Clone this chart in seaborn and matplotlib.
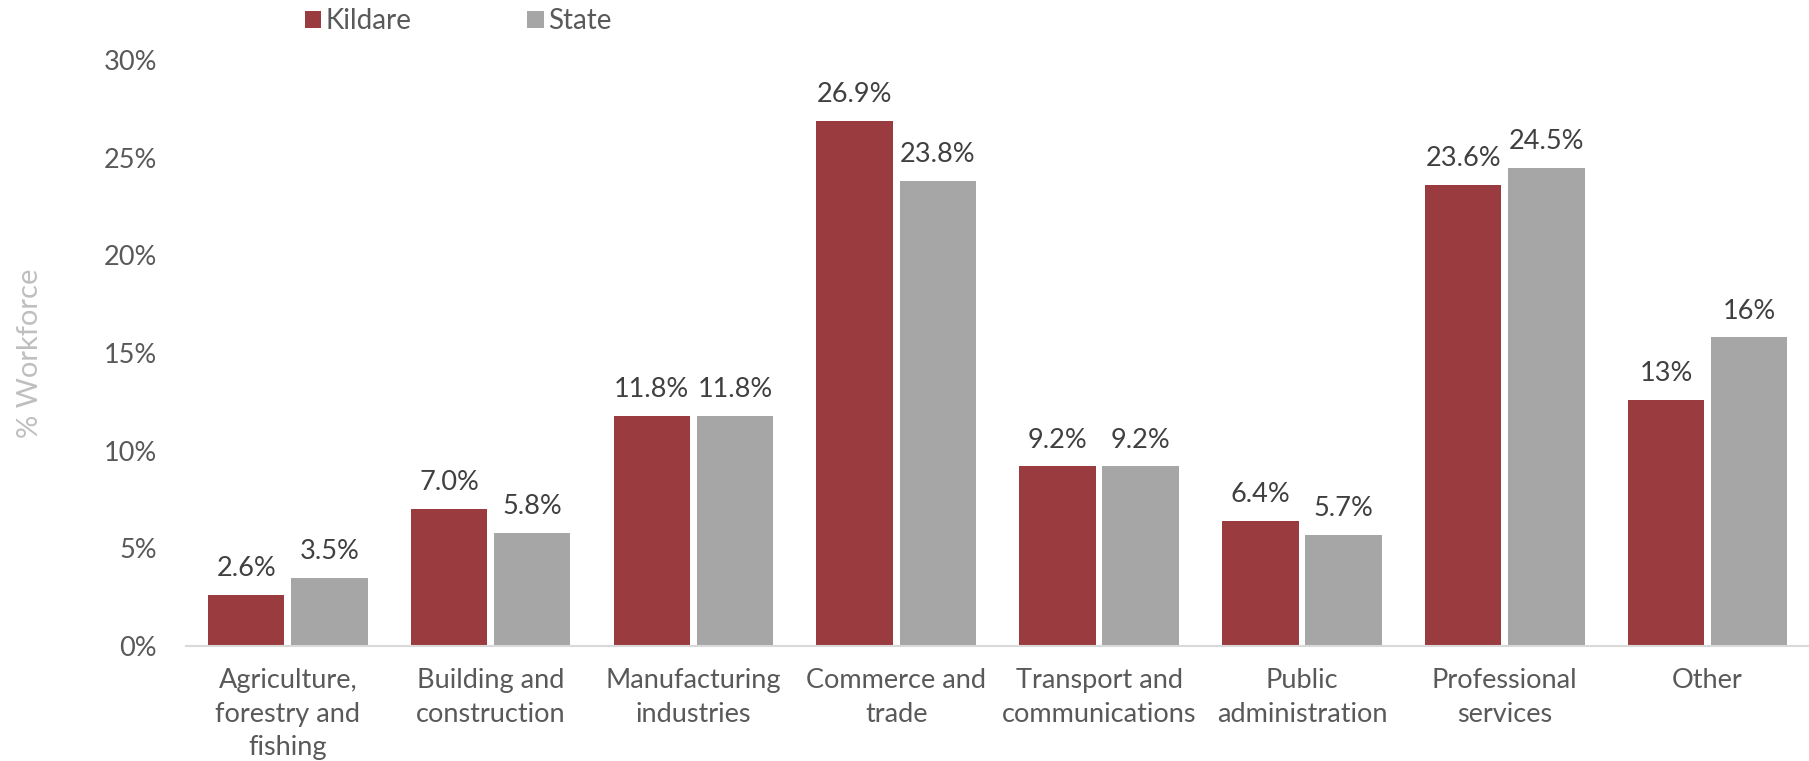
import matplotlib
matplotlib.use("Agg")
import matplotlib.pyplot as plt
from matplotlib.patches import Patch
import seaborn as sns
import pandas as pd

categories = [
    "Agriculture,\nforestry and\nfishing",
    "Building and\nconstruction",
    "Manufacturing\nindustries",
    "Commerce and\ntrade",
    "Transport and\ncommunications",
    "Public\nadministration",
    "Professional\nservices",
    "Other",
]
kildare = [2.6, 7.0, 11.8, 26.9, 9.2, 6.4, 23.6, 12.6]
state = [3.5, 5.8, 11.8, 23.8, 9.2, 5.7, 24.5, 15.8]
# decimals shown in each data label (the "Other" row is rounded to whole percent)
label_decimals = [1, 1, 1, 1, 1, 1, 1, 0]
series_names = ["Kildare", "State"]
y_ticks = [0, 5, 10, 15, 20, 25, 30]

colors = {"Kildare": "#9A3C3F", "State": "#A6A6A6"}

df = pd.DataFrame({
    "category": categories * 2,
    "value": kildare + state,
    "series": [series_names[0]] * len(categories) + [series_names[1]] * len(categories),
})

sns.set_theme(style="white")
plt.rcParams["font.family"] = ["Lato", "DejaVu Sans"]

fig = plt.figure(figsize=(18.09, 7.61), dpi=100)
ax = fig.add_axes([0.103, 0.151, 0.897, 0.770])

sns.barplot(
    data=df, x="category", y="value", hue="series",
    order=categories, hue_order=series_names,
    palette=colors, saturation=1, width=0.82, gap=0.08,
    linewidth=0, errorbar=None, legend=False, ax=ax,
)

for container, vals in zip(ax.containers, [kildare, state]):
    labels = [f"{v:.{d}f}%" for v, d in zip(vals, label_decimals)]
    ax.bar_label(container, labels=labels, padding=10, fontsize=19.5, color="#404040")

ax.set_ylim(0, 30)
ax.set_xlim(-0.5, len(categories) - 0.5)
ax.set_yticks(y_ticks)
ax.set_yticklabels([f"{t}%" for t in y_ticks], fontsize=19.5, color="#595959")
ax.set_xticks(range(len(categories)))
ax.set_xticklabels(categories, fontsize=19.5, color="#595959", linespacing=1.42)
ax.tick_params(axis="x", length=0, pad=16)
ax.tick_params(axis="y", length=0, pad=21)
ax.set_xlabel("")
ax.set_ylabel("% Workforce", fontsize=21, color="#BFBFBF", labelpad=44)

for side in ["top", "right", "left"]:
    ax.spines[side].set_visible(False)
ax.spines["bottom"].set_color("#D9D9D9")
ax.spines["bottom"].set_linewidth(1.5)

handles = [Patch(facecolor=colors[n], edgecolor="none") for n in series_names]
fig.legend(
    handles, series_names, loc="center left", bbox_to_anchor=(0.1546, 0.972),
    ncol=2, frameon=False, fontsize=20, labelcolor="#595959",
    handlelength=0.6, handleheight=0.6, handletextpad=0.15, columnspacing=4.17,
)

fig.savefig("out.png", dpi=100, facecolor="white")
